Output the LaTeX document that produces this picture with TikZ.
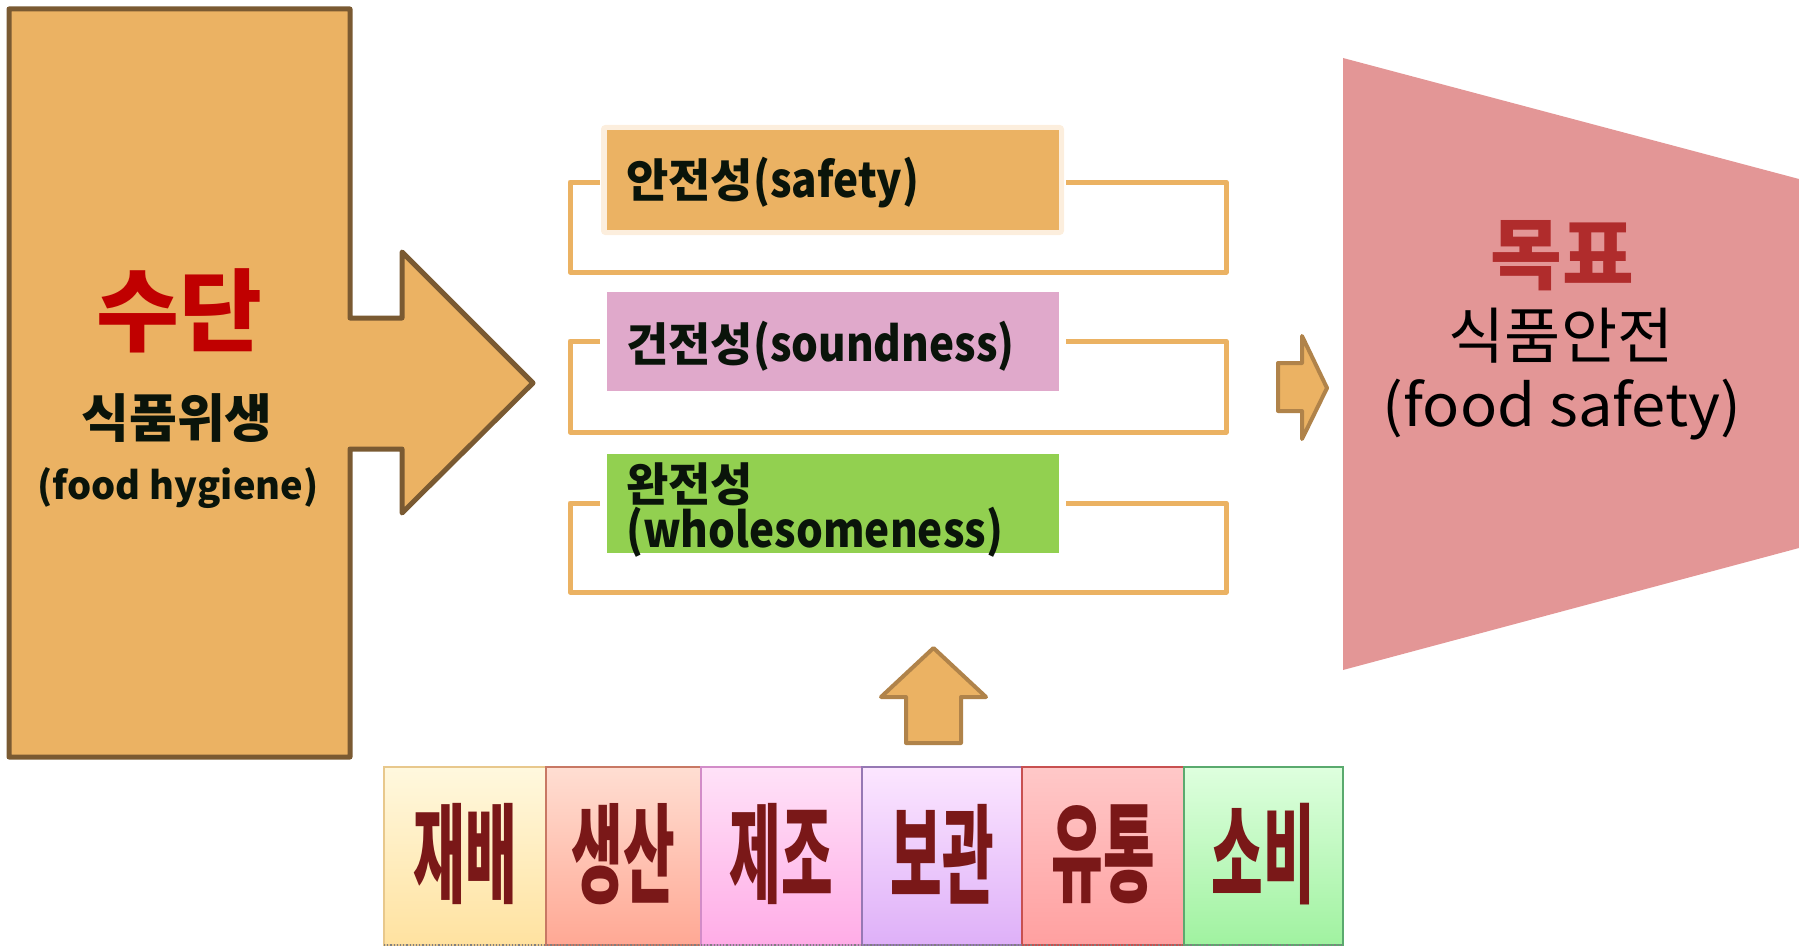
\documentclass[tikz,border=0pt]{standalone}
\usepackage{fontspec}
\newfontfamily\kr{Noto Sans CJK KR}
\newfontfamily\krw{Noto Sans CJK KR}[FakeStretch=1.06]
\newfontfamily\krl{Noto Sans CJK KR}[FakeStretch=0.88]
\newfontfamily\krs{Noto Sans CJK KR}[FakeStretch=0.52]
\definecolor{tan}{HTML}{EBB263}
\definecolor{darkbrown}{HTML}{7A5A32}
\definecolor{arrowbrown}{HTML}{B0834A}
\definecolor{pinkbox}{HTML}{E0A9CB}
\definecolor{greenbox}{HTML}{92D050}
\definecolor{trap}{HTML}{E39696}
\definecolor{glow}{HTML}{FCEEDD}
\definecolor{txt}{HTML}{0A140A}
\definecolor{redtxt}{HTML}{C00000}
\definecolor{goaltxt}{HTML}{B02C2C}
\definecolor{celltxt}{HTML}{7A1818}
\definecolor{aT}{HTML}{FFF8DE}\definecolor{aB}{HTML}{FFE2A0}\definecolor{aD}{HTML}{E8C88C}
\definecolor{bT}{HTML}{FFDED2}\definecolor{bB}{HTML}{FFA894}\definecolor{bD}{HTML}{C87864}
\definecolor{cT}{HTML}{FFE2F8}\definecolor{cB}{HTML}{FFACE6}\definecolor{cD}{HTML}{D28CC8}
\definecolor{dT}{HTML}{FCE6FF}\definecolor{dB}{HTML}{DEB0F8}\definecolor{dD}{HTML}{9678B4}
\definecolor{eT}{HTML}{FFC8C8}\definecolor{eB}{HTML}{FFA0A0}\definecolor{eD}{HTML}{C85050}
\definecolor{fT}{HTML}{DEFFDE}\definecolor{fB}{HTML}{A0F2A0}\definecolor{fD}{HTML}{5AAA6E}
\newcommand\lat[1]{{\krl\bfseries\fontsize{48}{42}\selectfont #1}}
\tikzset{
  bigarrow/.style={fill=tan,draw=darkbrown,line width=5pt,line join=round},
  smallarrow/.style={fill=tan,draw=arrowbrown,line width=4pt,line join=round},
  bracketline/.style={draw=tan,line width=5pt,line join=round},
  labelbox/.style={minimum width=452pt,minimum height=100pt,inner sep=0pt},
  boxtext/.style={anchor=west,inner sep=0pt,text=txt,font=\kr\bfseries\fontsize{46}{42}\selectfont,align=left},
  cell/.style={draw=#1,line width=1.5pt},
  celltext/.style={text=celltxt,inner sep=0pt,font=\krs\bfseries\fontsize{108}{108}\selectfont}
}
\begin{document}
\begin{tikzpicture}[x=1pt,y=-1pt]
\useasboundingbox (0,0) rectangle (1799,947);

% left block arrow
\draw[bigarrow] (9,9) -- (350,9) -- (350,318) -- (402,318) -- (402,252) -- (533,383)
  -- (402,513) -- (402,449) -- (350,449) -- (350,757) -- (9,757) -- cycle;
\node[text=redtxt,inner sep=0pt,font=\kr\bfseries\fontsize{90}{90}\selectfont] (sudan) at (179,311) {수단};
\node[text=txt,inner sep=0pt,font=\kr\bfseries\fontsize{52}{52}\selectfont] (hyg) at (177,418) {식품위생};
\node[text=txt,inner sep=0pt,font=\kr\bfseries\fontsize{38}{38}\selectfont] (hygen) at (178,488) {(food hygiene)};

% brackets
\draw[bracketline] (600,182) -- (570,182) -- (570,272) -- (1226,272) -- (1226,182) -- (1066,182);
\draw[bracketline] (600,341) -- (570,341) -- (570,432) -- (1226,432) -- (1226,341) -- (1066,341);
\draw[bracketline] (600,503) -- (570,503) -- (570,592) -- (1226,592) -- (1226,503) -- (1066,503);

% label boxes
\fill[glow,rounded corners=4pt] (601,125) rectangle (1064,235);
\node[labelbox,fill=tan] (safety) at (833,180) {};
\node[labelbox,fill=pinkbox,minimum height=99pt] (sound) at (833,341.5) {};
\node[labelbox,fill=greenbox,minimum height=99pt] (whole) at (833,503.5) {};
\node[boxtext] (safetyt) at (626,183) {안전성\lat{(safety)}};
\node[boxtext] (soundt) at (626,346) {건전성\lat{(soundness)}};
\node[boxtext,anchor=north west] (wholet) at (626,463) {완전성\\\lat{(wholesomeness)}};

% small right arrow
\draw[smallarrow] (1278,363) -- (1302,363) -- (1302,336) -- (1327,388) -- (1302,439)
  -- (1302,411) -- (1278,411) -- cycle;

% trapezoid
\fill[trap] (1343,58) -- (1799,179) -- (1799,548) -- (1343,670) -- cycle;
\node[text=goaltxt,inner sep=0pt,font=\kr\bfseries\fontsize{78}{78}\selectfont] (goal) at (1562,256) {목표};
\node[text=black,inner sep=0pt,font=\kr\fontsize{61}{61}\selectfont] (fs) at (1561,336) {식품안전};
\node[text=black,inner sep=0pt,font=\krw\fontsize{58}{58}\selectfont] (fsen) at (1562,410) {(food safety)};

% up arrow
\draw[smallarrow] (906,743) -- (906,697) -- (881,697) -- (933.5,648) -- (986,697)
  -- (961,697) -- (961,743) -- cycle;

% bottom strip
\shade[top color=aT,bottom color=aB] (384,767) rectangle (546,945);
\shade[top color=bT,bottom color=bB] (546,767) rectangle (701,945);
\shade[top color=cT,bottom color=cB] (701,767) rectangle (862,945);
\shade[top color=dT,bottom color=dB] (862,767) rectangle (1022,945);
\shade[top color=eT,bottom color=eB] (1022,767) rectangle (1184,945);
\shade[top color=fT,bottom color=fB] (1184,767) rectangle (1343,945);
\draw[cell=aD] (384,767) rectangle (546,945);
\draw[cell=bD] (546,767) rectangle (701,945);
\draw[cell=cD] (701,767) rectangle (862,945);
\draw[cell=dD] (862,767) rectangle (1022,945);
\draw[cell=eD] (1022,767) rectangle (1184,945);
\draw[cell=fD] (1184,767) rectangle (1343,945);
\draw[gray,line width=1.2pt,dotted] (384,945) -- (1343,945);
\node[celltext] (c1) at (465,854) {재배};
\node[celltext] (c2) at (623.5,854) {생산};
\node[celltext] (c3) at (781.5,854) {제조};
\node[celltext] (c4) at (942,854) {보관};
\node[celltext] (c5) at (1103,854) {유통};
\node[celltext] (c6) at (1263.5,854) {소비};
\end{tikzpicture}
\end{document}
